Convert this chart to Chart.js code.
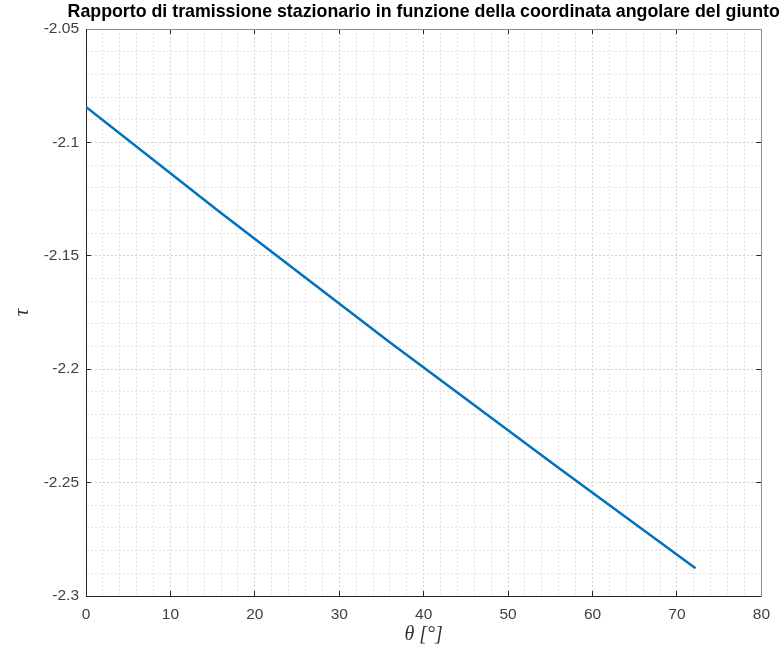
<!DOCTYPE html>
<html>
<head>
<meta charset="utf-8">
<script src="https://cdn.jsdelivr.net/npm/chart.js@4/dist/chart.umd.min.js"></script>
<style>
  body { margin: 0; background: #fff; }
  #wrap { width: 784px; height: 652px; }
</style>
</head>
<body>
<div id="wrap"><canvas id="my-chart" width="784" height="652"></canvas></div>
<script>
'use strict';

// ************* Data *************************************
let thetaDeg = [0, 15.8, 35.9, 56.0, 72.2];
let tauValues = [-2.0844, -2.1306, -2.1879, -2.2436, -2.2878];

let xMajorTicks = [0, 10, 20, 30, 40, 50, 60, 70, 80];
let yMajorTicks = [-2.3, -2.25, -2.2, -2.15, -2.1, -2.05];

let chartTitle = 'Rapporto di tramissione stazionario in funzione della coordinata angolare del giunto';
let xLabel = 'θ [°]';
let yLabel = 'τ';

// ************* Helpers **************
function isMajor(value, list){
  return list.some(v => Math.abs(v - value) < 1e-6);
}

function fmt(v){
  return String(Math.round(v * 100) / 100);
}

let points = [];
for(let i = 0; i < thetaDeg.length; i++){
  points.push({ x: thetaDeg[i], y: tauValues[i] });
}

let axisDark = '#262626';
let boxGrey = '#8f8f8f';
let tickFont = { family: 'Liberation Sans', size: 15.5 };

function gridColor(list){
  return ctx => (ctx.tick && isMajor(ctx.tick.value, list)) ? '#d4d4d4' : '#e4e4e4';
}
function tickColor(list, col){
  return ctx => (ctx.tick && isMajor(ctx.tick.value, list)) ? col : 'rgba(0,0,0,0)';
}

// title centred over the plot box, allowed to run past it (like MATLAB)
let plotTitle = {
  id: 'plotTitle',
  afterDraw(chart){
    let ctx = chart.ctx;
    let area = chart.chartArea;
    ctx.save();
    ctx.font = 'bold 17.8px "Liberation Sans"';
    ctx.fillStyle = '#000';
    ctx.textAlign = 'center';
    ctx.textBaseline = 'middle';
    ctx.fillText(chartTitle, (area.left + area.right) / 2, 12);
    ctx.restore();
  }
};

// ************* Chart **************
let canvasElem = document.getElementById('my-chart');

new Chart(canvasElem, {
  type: 'line',
  data: {
    datasets: [{
      data: points,
      borderColor: '#0072BD',
      borderWidth: 2.5,
      pointRadius: 0,
      tension: 0,
      fill: false
    }]
  },
  plugins: [plotTitle],
  options: {
    responsive: false,
    animation: false,
    layout: { padding: { left: 0, right: 21, top: 29, bottom: 0 } },
    plugins: {
      legend: { display: false },
      tooltip: { enabled: false },
      title: { display: false }
    },
    scales: {
      x: {
        type: 'linear',
        position: 'bottom',
        min: 0,
        max: 80,
        ticks: {
          stepSize: 2,
          autoSkip: false,
          maxRotation: 0,
          color: '#404040',
          font: tickFont,
          padding: 14,
          callback: v => isMajor(v, xMajorTicks) ? fmt(v) : ''
        },
        grid: {
          color: gridColor(xMajorTicks),
          lineWidth: 1,
          drawTicks: true,
          tickLength: -5,
          tickColor: tickColor(xMajorTicks, axisDark)
        },
        border: { color: axisDark, width: 1, dash: [2, 2] },
        title: {
          display: true,
          text: xLabel,
          color: '#333',
          font: { family: 'Liberation Serif', size: 20, style: 'italic' },
          padding: { top: 0, bottom: 5 }
        },
        afterFit: scale => { scale.height = 56; }
      },
      x2: {
        type: 'linear',
        position: 'top',
        min: 0,
        max: 80,
        ticks: { stepSize: 2, autoSkip: false, display: false },
        grid: {
          drawOnChartArea: false,
          drawTicks: true,
          tickLength: -5,
          tickColor: tickColor(xMajorTicks, axisDark)
        },
        border: { color: boxGrey, width: 1 },
        afterFit: scale => { scale.height = 0; }
      },
      y: {
        type: 'linear',
        position: 'left',
        min: -2.3,
        max: -2.05,
        ticks: {
          stepSize: 0.01,
          autoSkip: false,
          color: '#404040',
          font: tickFont,
          padding: 12,
          callback: v => isMajor(v, yMajorTicks) ? fmt(v) : ''
        },
        grid: {
          color: gridColor(yMajorTicks),
          lineWidth: 1,
          drawTicks: true,
          tickLength: -5,
          tickColor: tickColor(yMajorTicks, axisDark)
        },
        border: { color: axisDark, width: 1, dash: [2, 2] },
        title: {
          display: true,
          text: yLabel,
          color: '#333',
          font: { family: 'Liberation Serif', size: 21, style: 'italic' },
          padding: { top: 10, bottom: 0 }
        },
        afterFit: scale => { scale.width = 86; }
      },
      y2: {
        type: 'linear',
        position: 'right',
        min: -2.3,
        max: -2.05,
        ticks: { stepSize: 0.01, autoSkip: false, display: false },
        grid: {
          drawOnChartArea: false,
          drawTicks: true,
          tickLength: -5,
          tickColor: tickColor(yMajorTicks, axisDark)
        },
        border: { color: boxGrey, width: 1 },
        afterFit: scale => { scale.width = 0; }
      }
    }
  }
});
</script>
</body>
</html>
